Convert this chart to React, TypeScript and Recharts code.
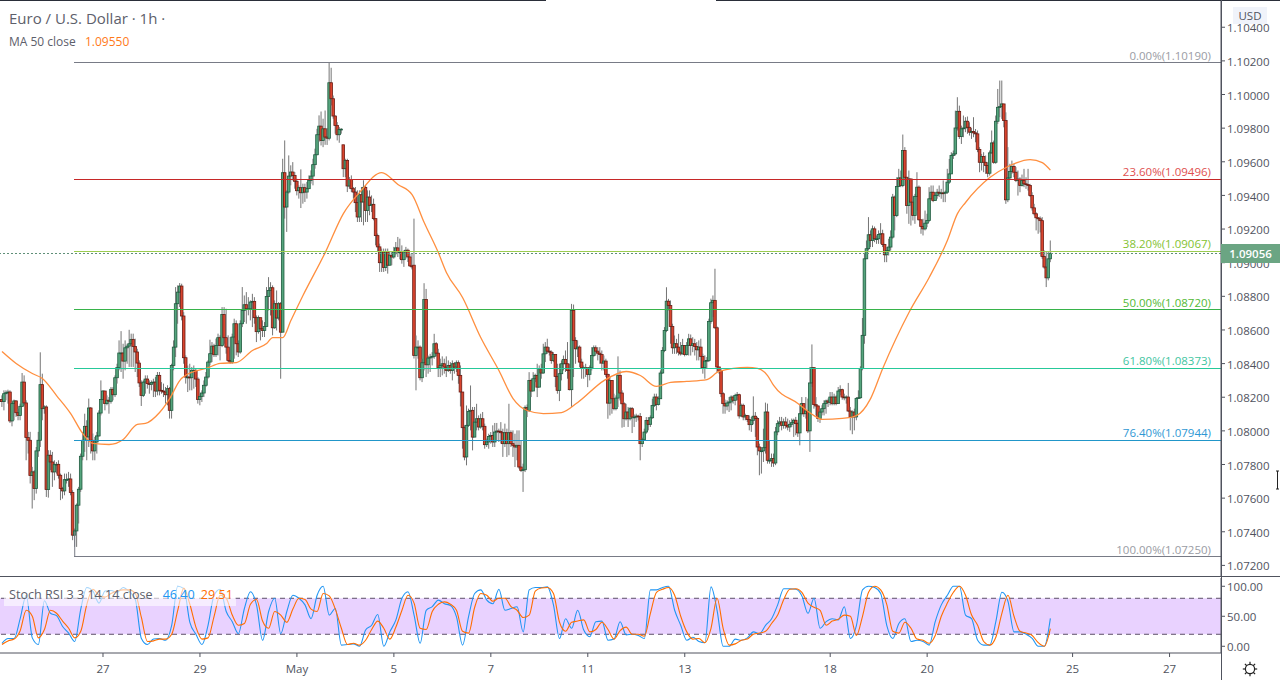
import {
  ComposedChart,
  Bar,
  Line,
  XAxis,
  YAxis,
  ReferenceLine,
  ReferenceArea,
  ReferenceDot,
} from "recharts";

// prices are kept in points: 8373 means 1.08373
const closes = [
  8174,8221,8227,8231,8059,8162,8178,8108,8092,8146,
  8290,8166,7960,7944,7734,7756,7657,7881,7944,8275,
  8132,8142,7651,7855,7815,7756,7801,7801,7736,7657,
  7643,7710,7710,7714,7633,7380,7405,7558,7653,7849,
  7944,8027,7964,8136,7944,7881,7934,7970,8106,8186,
  8237,8162,8182,8176,8247,8215,8316,8376,8463,8463,
  8415,8494,8504,8518,8544,8502,8469,8403,8285,8211,
  8290,8308,8281,8277,8287,8290,8237,8330,8241,8237,
  8231,8215,8251,8122,8389,8498,8756,8825,8861,8683,
  8435,8320,8320,8316,8360,8360,8308,8186,8205,8225,
  8271,8320,8409,8459,8504,8453,8508,8554,8508,8692,
  8554,8498,8419,8409,8558,8637,8518,8469,8637,8716,
  8750,8726,8726,8766,8770,8673,8590,8673,8607,8597,
  8621,8799,8835,8851,8613,8756,8671,8756,8587,9535,
  9331,9420,9515,9539,9519,9484,9428,9446,9416,9446,
  9420,9440,9489,9515,9583,9642,9761,9812,9727,9796,
  9747,9740,10070,9975,9872,9816,9761,9792,9794,9559,
  9608,9456,9495,9440,9420,9357,9272,9404,9361,9448,
  9311,9390,9341,9347,9262,9161,9094,9000,9064,8971,
  9064,8985,9044,9034,9064,9088,9064,9064,9018,9064,
  9074,9034,8981,8975,8448,8498,8498,8316,8405,8781,
  8393,8433,8439,8443,8518,8462,8375,8389,8399,8379,
  8359,8389,8359,8399,8379,8405,8330,8231,8019,7845,
  8033,8116,8122,7963,8052,8072,8023,8072,8027,7918,
  7934,7967,7973,7934,7993,7999,7997,7989,7924,7989,
  7924,7989,7924,7914,7904,7914,7785,7765,7769,8138,
  8122,8300,8237,8310,8330,8260,8369,8344,8458,8498,
  8474,8468,8419,8454,8324,8241,8340,8399,8425,8399,
  8359,8245,8716,8538,8488,8498,8409,8375,8375,8375,
  8336,8375,8448,8494,8474,8462,8454,8403,8415,8336,
  8165,8300,8191,8132,8195,8330,8225,8161,8072,8112,
  8072,8132,8082,8082,8088,8086,7924,7947,7993,8062,
  8039,8078,8151,8201,8157,8191,8344,8478,8597,8771,
  8745,8621,8494,8518,8498,8468,8458,8508,8454,8508,
  8547,8508,8518,8502,8482,8498,8443,8376,8415,8419,
  8651,8762,8776,8613,8380,8356,8221,8162,8148,8166,
  8172,8201,8182,8211,8215,8089,8152,8083,8092,8067,
  8037,8063,8087,8073,7904,7881,7881,7900,8112,7825,
  7825,7835,7809,7994,8043,8053,8033,8053,8033,8023,
  8039,8049,8063,8043,7988,8102,8162,8102,8118,8000,
  8285,8376,8156,8148,8073,8112,8132,8162,8178,8170,
  8201,8162,8201,8162,8237,8245,8201,8197,8201,8118,
  8083,8112,8083,8192,8197,8370,8568,9023,9083,9166,
  9132,9201,9142,9142,9168,9172,9108,9047,9073,9093,
  9152,9390,9281,9453,9504,9459,9667,9508,9340,9498,
  9360,9281,9394,9449,9255,9215,9201,9235,9251,9380,
  9419,9370,9399,9419,9413,9415,9413,9419,9479,9528,
  9637,9647,9801,9900,9750,9796,9801,9841,9805,9776,
  9780,9772,9766,9673,9597,9631,9597,9578,9532,9653,
  9712,9597,9841,9924,9928,9944,9845,9374,9504,9542,
  9572,9538,9489,9497,9459,9489,9469,9465,9459,9399,
  9326,9291,9267,9261,9250,9037,8974,8910,9023,9056,
];

const highs = [
  8211,8241,8241,8245,8241,8172,8186,8182,8132,8162,
  8344,8330,8182,7994,7994,7786,7766,7904,7994,8467,
  8340,8152,8152,7885,7885,7875,7825,7815,7825,7746,
  7667,7746,7746,7756,7746,7647,7419,7568,7667,7865,
  7994,8102,8063,8192,8142,7984,7964,7994,8122,8300,
  8241,8231,8211,8201,8261,8261,8330,8399,8538,8593,
  8518,8538,8518,8601,8578,8578,8548,8488,8419,8300,
  8300,8330,8330,8300,8300,8310,8320,8350,8350,8290,
  8281,8261,8271,8261,8399,8538,8855,8865,8879,8875,
  8706,8449,8389,8399,8380,8389,8370,8320,8221,8241,
  8300,8350,8419,8542,8528,8518,8548,8578,8568,8736,
  8736,8726,8568,8558,8578,8667,8657,8538,8657,8855,
  8805,8825,8795,8776,8815,8795,8686,8686,8657,8657,
  8647,8855,8914,8884,8865,8776,8835,8766,8766,9618,
  9727,9430,9638,9579,9598,9539,9499,9460,9555,9470,
  9470,9480,9519,9549,9618,9678,9796,9876,9899,9856,
  9905,9800,10190,10159,9994,9876,9836,9806,9800,9701,
  9618,9618,9509,9519,9450,9450,9430,9430,9450,9490,
  9460,9430,9430,9400,9381,9262,9173,9113,9084,9084,
  9084,9084,9064,9064,9094,9123,9153,9143,9103,9074,
  9094,9084,9054,9054,9262,8567,8538,8508,8429,8878,
  8844,8448,8458,8468,8577,8528,8488,8429,8443,8429,
  8443,8419,8409,8419,8409,8419,8419,8389,8231,8033,
  8151,8132,8270,8142,8142,8161,8092,8102,8112,8043,
  7954,7983,7993,8033,8047,8047,8013,8052,8013,8043,
  8013,8161,8003,8003,7983,8003,8003,7944,7805,8151,
  8157,8349,8310,8349,8340,8399,8389,8399,8518,8528,
  8548,8498,8478,8468,8429,8399,8399,8419,8448,8478,
  8528,8399,8755,8751,8557,8538,8508,8429,8389,8399,
  8359,8389,8498,8508,8508,8498,8498,8478,8448,8429,
  8340,8320,8250,8221,8211,8443,8359,8241,8171,8161,
  8142,8142,8142,8098,8102,8096,8106,7959,8013,8082,
  8082,8092,8191,8221,8221,8205,8359,8498,8617,8854,
  8785,8775,8637,8567,8547,8577,8528,8547,8508,8528,
  8577,8573,8557,8547,8528,8538,8548,8459,8449,8439,
  8667,8786,8805,8964,8621,8380,8370,8231,8186,8182,
  8201,8211,8211,8221,8231,8221,8162,8162,8102,8092,
  8092,8083,8205,8112,8083,7924,7904,8013,8168,8162,
  7944,7865,7865,8023,8063,8083,8083,8073,8083,8073,
  8063,8073,8073,8083,8053,8162,8201,8162,8201,8192,
  8380,8514,8370,8201,8152,8132,8152,8182,8186,8192,
  8231,8231,8221,8211,8261,8271,8251,8221,8211,8285,
  8142,8122,8132,8201,8241,8384,8671,9053,9132,9271,
  9192,9221,9215,9162,9192,9235,9196,9112,9093,9142,
  9192,9409,9399,9508,9558,9548,9762,9687,9508,9548,
  9498,9399,9409,9538,9459,9251,9261,9310,9291,9449,
  9459,9459,9419,9439,9459,9439,9489,9429,9558,9617,
  9657,9667,9904,9984,9934,9815,9875,9865,9869,9835,
  9801,9865,9795,9786,9687,9647,9657,9637,9597,9667,
  9786,9726,9875,10033,10083,10083,9894,9894,9687,9588,
  9607,9588,9568,9548,9508,9524,9558,9508,9558,9469,
  9419,9350,9300,9271,9275,9271,9073,9063,9063,9132,
];

const lows = [
  8142,8122,8182,8162,8047,8027,8063,8083,8063,8063,
  8142,8152,7825,7865,7687,7538,7588,7627,7845,7904,
  8063,8102,7607,7603,7766,7667,7706,7746,7716,7588,
  7597,7617,7687,7667,7617,7350,7310,7310,7449,7637,
  7825,7875,7825,7904,7865,7825,7825,7865,7964,8092,
  8201,8122,8152,8102,8162,8182,8201,8281,8360,8350,
  8310,8360,8399,8380,8380,8380,8350,8320,8261,8148,
  8201,8221,8251,8221,8241,8201,8201,8211,8211,8221,
  8201,8162,8152,8073,8073,8360,8439,8637,8736,8657,
  8399,8281,8231,8241,8241,8251,8261,8162,8152,8172,
  8201,8261,8310,8389,8409,8439,8439,8449,8419,8498,
  8518,8459,8409,8399,8399,8429,8449,8439,8459,8617,
  8647,8637,8687,8657,8617,8637,8528,8578,8538,8558,
  8558,8627,8716,8686,8568,8607,8597,8657,8310,8587,
  9262,9183,9410,9460,9489,9440,9400,9381,9325,9351,
  9361,9381,9440,9470,9460,9559,9638,9717,9697,9687,
  9701,9700,9727,9935,9856,9767,9727,9713,9767,9509,
  9509,9420,9440,9420,9381,9301,9242,9242,9242,9222,
  9242,9242,9282,9301,9252,9103,9064,8945,8945,8945,
  8950,8935,8985,8985,9024,9044,9034,9020,8994,8975,
  9024,9004,8975,8960,8430,8241,8429,8300,8290,8359,
  8320,8340,8350,8389,8429,8443,8320,8320,8330,8340,
  8320,8350,8340,8300,8340,8350,8280,8145,7894,7825,
  7795,8023,8003,7884,7963,8003,8003,8013,8003,7894,
  7904,7894,7924,7904,7904,7944,7934,7924,7845,7904,
  7845,7855,7904,7845,7785,7825,7775,7755,7637,7755,
  8082,8112,8201,8241,8290,8201,8280,8310,8340,8409,
  8458,8448,8399,8409,8260,8221,8177,8300,8359,8350,
  8310,8241,8142,8320,8399,8439,8379,8310,8310,8320,
  8260,8300,8359,8439,8448,8419,8399,8359,8359,8320,
  8072,8092,8102,8122,8122,8142,8181,8019,8023,8062,
  8023,8062,7987,8023,8053,8062,7825,7904,7940,7983,
  8003,8023,8072,8142,8122,8151,8191,8340,8468,8587,
  8716,8518,8458,8458,8458,8448,8448,8454,8443,8448,
  8448,8448,8468,8448,8419,8419,8370,8340,8310,8370,
  8409,8637,8677,8607,8350,8340,8201,8102,8102,8122,
  8112,8122,8162,8152,8182,8073,8083,8063,8063,8053,
  8003,7994,8039,7964,7855,7736,7746,7815,7865,7805,
  7805,7786,7786,7796,7974,8023,8003,8013,8013,8003,
  7994,8023,7964,7974,7964,7914,8092,8083,8073,7987,
  7875,8261,8132,8092,8053,8047,8092,8092,8102,8142,
  8152,8152,8152,8152,8162,8211,8185,8182,8162,8112,
  8003,7980,8003,8063,8191,8191,8360,8518,9033,9073,
  9093,9093,9122,9112,9112,9112,9093,9003,9003,9043,
  9073,9142,9192,9271,9449,9449,9449,9498,9291,9231,
  9221,9251,9231,9310,9251,9172,9162,9192,9211,9241,
  9370,9360,9370,9380,9390,9380,9360,9360,9409,9469,
  9538,9617,9637,9786,9736,9706,9746,9776,9766,9756,
  9736,9746,9716,9657,9538,9548,9538,9528,9508,9518,
  9647,9588,9588,9825,9865,9855,9805,9350,9360,9498,
  9528,9508,9479,9399,9419,9453,9449,9439,9429,9390,
  9310,9281,9192,9172,9180,9023,8964,8855,8895,9003,
];

// bars that opened away from the previous close
const openGaps: Record<number, number> = { 169: 9701, 204: 8985 };

// moving average, read at these bars only
const maBars = [
  0,7,15,20,27,34,40,45,53,60,67,71,78,83,88,95,101,108,116,124,131,134,139,143,149,
  160,169,177,188,196,203,209,216,220,228,237,246,253,260,268,277,285,298,309,316,
  324,331,339,349,355,369,374,379,382,394,402,406,416,423,430,436,449,459,468,473,
  477,489,498,509,515,519,
];
const maValues = [
  8472,8401,8341,8311,8210,8103,7984,7925,7919,7949,8038,8044,8109,8192,8299,8353,8371,8401,8406,8478,8519,8555,8555,8656,8805,
  9060,9292,9417,9536,9465,9405,9239,9060,8942,8793,8555,8359,8192,8121,8103,8109,8169,8299,8353,8329,
  8264,8288,8294,8305,8353,8377,8371,8329,8270,8163,8091,8068,8074,8091,8192,8371,8704,8912,9132,9292,
  9358,9506,9572,9613,9595,9550,
];

// stochastic values, read every third bar
const stochStep = 3;
const stochK = [
  5,13,13,46,85,14,3,76,55,51,33,22,8,62,98,92,72,92,93,90,98,91,78,13,3,12,13,10,35,100,
  96,40,20,3,35,85,95,58,41,21,63,91,69,10,58,80,21,58,85,80,69,46,85,100,52,63,2,3,
  4,0,27,35,53,0,24,44,80,91,52,5,60,66,77,71,68,49,2,50,88,94,77,71,95,60,63,66,24,94,
  98,98,99,69,13,46,30,60,27,16,41,42,10,12,41,19,20,18,13,94,94,98,100,60,35,10,15,8,
  6,99,60,0,0,12,10,14,24,21,35,46,69,96,96,95,84,55,80,30,41,46,44,66,13,35,94,100,98,88,
  35,13,38,46,8,10,8,2,41,69,85,100,100,52,46,10,2,2,41,90,75,24,24,20,13,0,0,46.4,
];
const stochD = [
  3,9,12,26,60,50,14,28,60,55,42,30,14,25,70,95,85,82,88,92,94,94,88,48,8,9,12,12,20,60,
  97,70,32,12,14,50,85,80,52,35,38,70,78,42,30,58,52,40,62,80,78,62,58,88,84,62,30,3,
  5,2,10,28,42,30,12,32,60,85,72,30,28,58,70,74,70,60,25,22,65,88,85,75,80,80,66,60,48,52,
  92,97,98,88,40,25,40,42,44,24,28,40,28,12,26,32,20,20,17,55,90,95,98,85,50,24,12,13,
  6,30,80,30,2,4,10,12,20,22,25,38,52,78,95,96,90,72,65,60,35,42,45,52,50,18,50,90,100,94,
  70,25,22,40,30,12,10,5,18,50,72,90,100,85,52,35,8,2,15,55,85,50,25,22,18,6,0,29.51,
];

const fibPrices = [1.1019, 1.09496, 1.09067, 1.0872, 1.08373, 1.07944, 1.0725];
const fibLabels = [
  "0.00%(1.10190)",
  "23.60%(1.09496)",
  "38.20%(1.09067)",
  "50.00%(1.08720)",
  "61.80%(1.08373)",
  "76.40%(1.07944)",
  "100.00%(1.07250)",
];
const fibLineColors = ["#787b86", "#c62828", "#9ccc50", "#37b34a", "#26c99a", "#2196c9", "#787b86"];
const fibTextColors = ["#9a9ca4", "#e04f4f", "#84c232", "#52b935", "#3fc59f", "#2f98d4", "#9a9ca4"];

const priceTicks = [
  1.072, 1.074, 1.076, 1.078, 1.08, 1.082, 1.084, 1.086, 1.088, 1.09, 1.092, 1.094, 1.096, 1.098, 1.1, 1.102, 1.104,
];
const timeTickBars = [50, 98, 146, 194, 242, 290, 338, 410, 458, 530, 578];
const timeTickLabels = ["27", "29", "May", "5", "7", "11", "13", "18", "20", "25", "27"];

const lastPrice = 1.09056;
const xDomain = [-0.99, 603.47];
const FONT = "'Open Sans', sans-serif";
const TEXT = "#50535e";

const toPrice = (p: number) => 1 + p / 100000;

const rows = closes.map((close, i) => {
  const prev = i === 0 ? close + 12 : closes[i - 1];
  const open = openGaps[i] ?? prev;
  const maAt = maBars.indexOf(i);
  const onStoch = i % stochStep === 0;
  return {
    i,
    open: toPrice(open),
    close: toPrice(close),
    range: [toPrice(Math.min(lows[i], open, close)), toPrice(Math.max(highs[i], open, close))],
    ma: maAt >= 0 ? toPrice(maValues[maAt]) : undefined,
    k: onStoch ? stochK[i / stochStep] : undefined,
    d: onStoch ? stochD[i / stochStep] : undefined,
  };
});

const Candle = (props: any) => {
  const { x, y, width, height, payload } = props;
  const [low, high] = payload.range;
  const ratio = height / (high - low);
  const cx = x + width / 2;
  const top = y + (high - Math.max(payload.open, payload.close)) * ratio;
  const bottom = y + (high - Math.min(payload.open, payload.close)) * ratio;
  const up = payload.close >= payload.open;
  return (
    <g>
      <line x1={cx} x2={cx} y1={y} y2={y + height} stroke='#757575' strokeWidth={1} />
      <rect
        x={cx - 1.3}
        y={top}
        width={2.6}
        height={Math.max(bottom - top, 0.8)}
        fill={up ? "#55a57d" : "#d9442e"}
        stroke={up ? "#1f5a3f" : "#6a1c14"}
        strokeWidth={0.8}
      />
    </g>
  );
};

const FibText = (props: any) => (
  <text x={props.cx} y={props.cy - 3} textAnchor='end' fontSize={11.5} fontFamily={FONT} fill={props.color}>
    {props.text}
  </text>
);

// axis labels sit one pixel lower than the tick mark
const AxisTick = (props: any) => (
  <text x={props.x} y={props.y + 1} dy='0.355em' textAnchor='start' fontSize={11.5} fontFamily={FONT} fill={TEXT}>
    {props.decimals === undefined ? props.payload.value : props.payload.value.toFixed(props.decimals)}
  </text>
);

const Gear = () => (
  <svg width={18} height={18} viewBox='0 0 18 18' style={{ position: "absolute", left: 1241, top: 660 }}>
    <circle cx={9} cy={9} r={4.6} fill='none' stroke='#222' strokeWidth={1.2} />
    {[0, 45, 90, 135, 180, 225, 270, 315].map((a) => (
      <line key={a} x1={9} y1={1.8} x2={9} y2={4.4} stroke='#222' strokeWidth={1.2} transform={`rotate(${a} 9 9)`} />
    ))}
  </svg>
);

const Cursor = () => (
  <svg width={5} height={20} viewBox='0 0 5 20' style={{ position: "absolute", left: 1275, top: 470 }}>
    <path d='M1 1 L4 1 M2.5 1 L2.5 19 M1 19 L4 19' fill='none' stroke='#222' strokeWidth={1} />
  </svg>
);

const App = () => {
  return (
    <div style={{ position: "absolute", left: 0, top: 0, width: 1280, height: 680, overflow: "hidden", background: "#fff", fontFamily: FONT }}>
      <div style={{ position: "absolute", left: 0, top: 0 }}>
        <ComposedChart width={1280} height={576} data={rows} margin={{ top: 0, right: 0, bottom: 0, left: 0 }}>
          <XAxis dataKey='i' type='number' domain={xDomain} hide allowDataOverflow />
          <YAxis
            orientation='right'
            width={59}
            domain={[1.07137, 1.10562]}
            ticks={priceTicks}
            interval={0}
            allowDataOverflow
            tick={<AxisTick decimals={5} />}
            tickSize={4}
            tickMargin={2}
            stroke={TEXT}
          />
          <Bar dataKey='range' barSize={3} shape={<Candle />} isAnimationActive={false} />
          <Line dataKey='ma' type='monotone' stroke='#ff8f3f' strokeWidth={1.3} dot={false} connectNulls isAnimationActive={false} />
          <ReferenceLine y={lastPrice} stroke='#5f8f78' strokeDasharray='2 2' shapeRendering='crispEdges' />
          <ReferenceLine segment={[{ x: 36, y: 1.0725 }, { x: 36, y: 1.074 }]} stroke='#787b86' />
          {fibPrices.map((p, n) => (
            <ReferenceLine
              key={p}
              segment={[{ x: 35.6, y: p }, { x: 603.47, y: p }]}
              stroke={fibLineColors[n]}
              shapeRendering='crispEdges'
            />
          ))}
          {fibPrices.map((p, n) => (
            <ReferenceDot
              key={p}
              x={598.5}
              y={p}
              r={0}
              shape={(s: any) => <FibText {...s} text={fibLabels[n]} color={fibTextColors[n]} />}
            />
          ))}
        </ComposedChart>
      </div>

      <div style={{ position: "absolute", left: 0, top: 577 }}>
        <ComposedChart width={1280} height={103} data={rows} margin={{ top: 1, right: 0, bottom: 0, left: 0 }}>
          <XAxis
            dataKey='i'
            type='number'
            domain={xDomain}
            allowDataOverflow
            ticks={timeTickBars}
            interval={0}
            height={27}
            tickFormatter={(v: number) => timeTickLabels[timeTickBars.indexOf(v)]}
            tick={{ fontSize: 11.5, fill: TEXT, fontFamily: FONT }}
            tickSize={4}
            tickMargin={8}
            stroke={TEXT}
          />
          <YAxis
            orientation='right'
            width={59}
            domain={[-11.2, 113.8]}
            ticks={[0, 50, 100]}
            allowDataOverflow
            tick={<AxisTick decimals={2} />}
            tickSize={4}
            tickMargin={2}
            stroke={TEXT}
          />
          <ReferenceArea y1={20} y2={80} fill='#e9d2ff' fillOpacity={1} stroke='none' />
          <ReferenceLine y={80} stroke='#5d5069' strokeDasharray='5 4' />
          <ReferenceLine y={20} stroke='#5d5069' strokeDasharray='5 4' />
          <Line dataKey='k' type='monotone' stroke='#2196f3' strokeWidth={1.1} dot={false} connectNulls isAnimationActive={false} />
          <Line dataKey='d' type='monotone' stroke='#ff6d00' strokeWidth={1.1} dot={false} connectNulls isAnimationActive={false} />
        </ComposedChart>
      </div>

      <div style={{ position: "absolute", left: 0, top: 0, width: 546, height: 1, background: "#2a2e39" }} />
      <div style={{ position: "absolute", left: 716, top: 0, width: 564, height: 1, background: "#2a2e39" }} />
      <div style={{ position: "absolute", left: 0, top: 576, width: 1280, height: 1, background: TEXT }} />
      <div style={{ position: "absolute", left: 1221, top: 0, width: 1, height: 680, background: TEXT }} />

      <div style={{ position: "absolute", left: 9, top: 8, fontSize: 15, color: "#5d606b", whiteSpace: "nowrap" }}>
        Euro / U.S. Dollar · 1h ·
      </div>
      <div style={{ position: "absolute", left: 9, top: 33, fontSize: 12, color: "#5d606b", whiteSpace: "nowrap" }}>
        MA 50 close <span style={{ color: "#ff7a1a", marginLeft: 6 }}>1.09550</span>
      </div>

      <div style={{ position: "absolute", left: 4, top: 586, width: 232, height: 20, background: "rgba(255,255,255,0.6)" }} />
      <div style={{ position: "absolute", left: 9, top: 586, fontSize: 12.6, color: "#5d606b", whiteSpace: "nowrap" }}>
        Stoch RSI 3 3 14 14 close
        <span style={{ color: "#2196f3", marginLeft: 10 }}>46.40</span>
        <span style={{ color: "#ff6d00", marginLeft: 6 }}>29.51</span>
      </div>

      <div style={{ position: "absolute", left: 1233, top: 7, width: 34, height: 17, background: "#f0f3fa", color: TEXT, fontSize: 11.5, lineHeight: "17px", textAlign: "center" }}>
        USD
      </div>
      <div style={{ position: "absolute", left: 1221, top: 244, width: 59, height: 19, background: "#6ba583", color: "#fff", fontSize: 11.5, fontWeight: 600, lineHeight: "19px", textAlign: "center" }}>
        1.09056
      </div>
      <Gear />
      <Cursor />
    </div>
  );
};

export default App;
